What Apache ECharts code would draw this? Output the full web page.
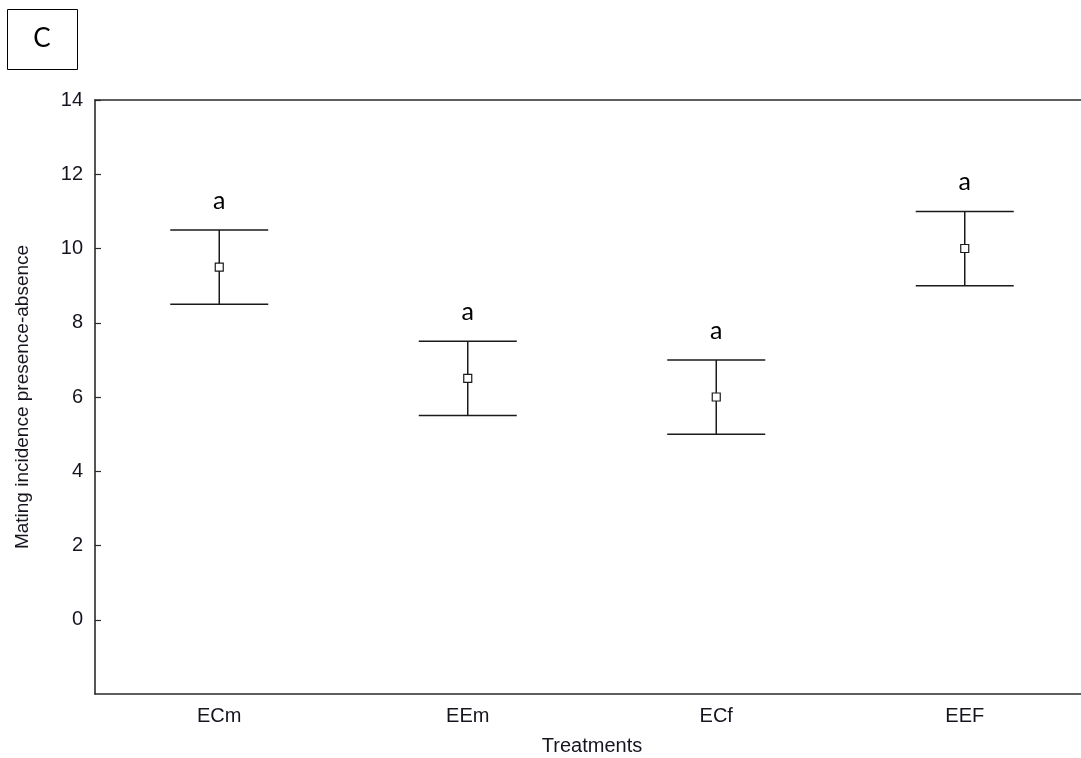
<!DOCTYPE html>
<html>
<head>
<meta charset="utf-8">
<script src="https://cdn.jsdelivr.net/npm/echarts@6/dist/echarts.min.js"></script>
<style>
  html, body { margin: 0; padding: 0; background: #fff; }
  #chart { width: 1081px; height: 758px; }
</style>
</head>
<body>
<div id="chart"></div>
<script>
// Treatment groups and their summary statistics
const treatments = ['ECm', 'EEm', 'ECf', 'EEF'];
const means = [9.5, 6.5, 6.0, 10.0];
const lower = [8.5, 5.5, 5.0, 9.0];
const upper = [10.5, 7.5, 7.0, 11.0];
const groupLetters = ['a', 'a', 'a', 'a'];
const yTicks = [0, 2, 4, 6, 8, 10, 12, 14];

const axisColor = '#2a2a2a';
const textColor = '#151520';
const labelFont = '"Liberation Sans", Arial, sans-serif';
const letterFont = 'Lato, "Open Sans", sans-serif';

const rows = treatments.map((t, i) => [i, means[i], lower[i], upper[i], groupLetters[i]]);

const chart = echarts.init(document.getElementById('chart'), null, { renderer: 'canvas' });

chart.setOption({
  animation: false,
  backgroundColor: '#fff',
  grid: {
    left: 95, top: 100, bottom: 64, right: -8,
    containLabel: false,
    outerBoundsMode: 'none'
  },
  xAxis: [
    {
      type: 'category',
      data: treatments,
      position: 'bottom',
      name: 'Treatments',
      nameLocation: 'middle',
      nameGap: 42,
      nameTextStyle: { fontFamily: labelFont, fontSize: 20, color: textColor },
      axisLine: { onZero: false, lineStyle: { color: axisColor, width: 1.6 } },
      axisTick: { inside: true, alignWithLabel: true, length: 5, lineStyle: { color: axisColor, width: 1.2 } },
      axisLabel: { fontFamily: labelFont, fontSize: 20, color: textColor, margin: 12 },
      splitLine: { show: false }
    },
    {
      type: 'category',
      data: treatments,
      position: 'top',
      axisLine: { onZero: false, lineStyle: { color: axisColor, width: 1.6 } },
      axisTick: { inside: true, alignWithLabel: true, length: 5, lineStyle: { color: axisColor, width: 1.2 } },
      axisLabel: { show: false },
      splitLine: { show: false }
    }
  ],
  yAxis: {
    type: 'value',
    min: -2,
    max: 14,
    interval: 2,
    name: 'Mating incidence presence-absence',
    nameLocation: 'middle',
    nameGap: 63,
    nameTextStyle: { fontFamily: labelFont, fontSize: 19, color: textColor },
    axisLine: { show: true, onZero: false, lineStyle: { color: axisColor, width: 1.6 } },
    axisTick: {
      show: true, inside: true, length: 6,
      lineStyle: { color: axisColor, width: 1.2 },
      customValues: yTicks
    },
    axisLabel: {
      fontFamily: labelFont, fontSize: 20, color: textColor, margin: 12,
      customValues: yTicks
    },
    splitLine: { show: false }
  },
  series: [{
    type: 'custom',
    xAxisIndex: 0,
    data: rows,
    encode: { x: 0, y: [1, 2, 3] },
    renderItem: function (params, api) {
      const idx = api.value(0);
      const pMean = api.coord([idx, api.value(1)]);
      const pLow = api.coord([idx, api.value(2)]);
      const pHigh = api.coord([idx, api.value(3)]);
      const capHalf = 49;
      const half = 4;
      const stroke = { stroke: '#1a1a1a', lineWidth: 1.5 };
      return {
        type: 'group',
        children: [
          { type: 'line', shape: { x1: pLow[0], y1: pLow[1], x2: pHigh[0], y2: pHigh[1] }, style: stroke },
          { type: 'line', shape: { x1: pHigh[0] - capHalf, y1: pHigh[1], x2: pHigh[0] + capHalf, y2: pHigh[1] }, style: stroke },
          { type: 'line', shape: { x1: pLow[0] - capHalf, y1: pLow[1], x2: pLow[0] + capHalf, y2: pLow[1] }, style: stroke },
          {
            type: 'rect',
            shape: { x: pMean[0] - half, y: pMean[1] - half, width: half * 2, height: half * 2 },
            style: { fill: '#fff', stroke: '#1a1a1a', lineWidth: 1.2 }
          },
          {
            type: 'text',
            style: {
              text: api.value(4),
              x: pHigh[0],
              y: pHigh[1] - 29,
              align: 'center',
              verticalAlign: 'middle',
              fontFamily: letterFont,
              fontSize: 25,
              fill: '#000'
            }
          }
        ]
      };
    }
  }],
  graphic: [
    {
      type: 'rect',
      left: 7, top: 9,
      shape: { width: 70, height: 60 },
      style: { fill: '#fff', stroke: '#000', lineWidth: 1 }
    },
    {
      type: 'text',
      x: 42, y: 39,
      style: {
        text: 'C', align: 'center', verticalAlign: 'middle',
        fontFamily: letterFont, fontSize: 26, fill: '#000'
      }
    }
  ]
});
</script>
</body>
</html>
